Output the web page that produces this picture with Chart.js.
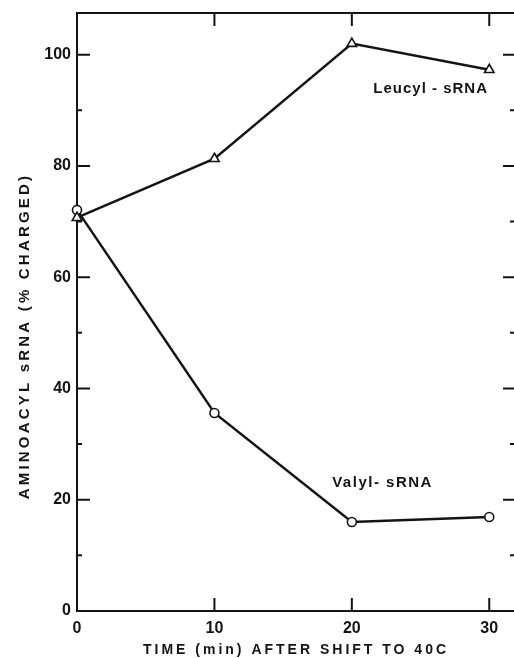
<!DOCTYPE html>
<html>
<head>
<meta charset="utf-8">
<script src="https://cdn.jsdelivr.net/npm/chart.js@4/dist/chart.umd.min.js"></script>
<style>
  html, body { margin: 0; padding: 0; background: #fff; overflow: hidden; }
  #wrap { width: 514px; height: 658px; }
</style>
</head>
<body>
<div id="wrap"><canvas id="chart" width="514" height="658"></canvas></div>
<script>
// data
var timeMin = [0, 10, 20, 30];
var leucyl  = [70.7, 81.3, 102.0, 97.3];
var valyl   = [72.1, 35.6, 16.0, 16.9];
var xTicks  = [0, 10, 20, 30];
var yTicks  = [0, 20, 40, 60, 80, 100];

var INK = '#141414';
var FONT = "'Liberation Sans', Arial, sans-serif";

function pts(ys) {
    return timeMin.map(function (t, i) { return { x: t, y: ys[i] }; });
}

// box, inward ticks, axis titles and curve labels
var frame = {
    id: 'frame',
    afterDraw: function (chart) {
        var c = chart.ctx, a = chart.chartArea;
        var xs = chart.scales.x, ys = chart.scales.y;
        c.save();
        c.strokeStyle = INK;
        c.lineWidth = 2;
        c.beginPath();
        c.moveTo(a.left, a.top); c.lineTo(a.right + 2, a.top);
        // left / right ticks every 10, long ones on the labelled values
        for (var v = 10; v <= 100; v += 10) {
            var py = ys.getPixelForValue(v);
            var major = v % 20 === 0;
            c.moveTo(a.left, py); c.lineTo(a.left + (major ? 13 : 5), py);
            c.moveTo(a.right, py); c.lineTo(a.right - (major ? 11 : 4), py);
        }
        // top / bottom ticks
        [10, 20, 30].forEach(function (t) {
            var px = xs.getPixelForValue(t);
            c.moveTo(px, a.bottom); c.lineTo(px, a.bottom - 13);
            c.moveTo(px, a.top); c.lineTo(px, a.top + 13);
        });
        c.stroke();

        c.fillStyle = INK;
        c.textBaseline = 'middle';
        c.letterSpacing = '3px';
        c.font = 'bold 14px ' + FONT;
        c.textAlign = 'center';
        c.fillText('TIME (min) AFTER SHIFT TO 40C', 296, 650);
        c.save();
        c.translate(25, 336);
        c.rotate(-Math.PI / 2);
        c.letterSpacing = '3.2px';
        c.font = 'bold 15px ' + FONT;
        c.fillText('AMINOACYL sRNA (% CHARGED)', 0, 0);
        c.restore();

        c.font = 'bold 15px ' + FONT;
        c.textAlign = 'left';
        c.letterSpacing = '1px';
        c.fillText('Leucyl - sRNA', xs.getPixelForValue(21.56), ys.getPixelForValue(93.9));
        c.letterSpacing = '1.5px';
        c.fillText('Valyl- sRNA', xs.getPixelForValue(18.57), ys.getPixelForValue(23.0));
        c.restore();
    }
};

new Chart(document.getElementById('chart'), {
    type: 'line',
    data: {
        datasets: [{
            label: 'Leucyl-sRNA',
            data: pts(leucyl),
            borderColor: INK,
            borderWidth: 2.5,
            pointStyle: 'triangle',
            pointRadius: 5.5,
            pointBorderWidth: 1.6,
            pointBackgroundColor: '#fff',
            pointBorderColor: INK,
            tension: 0,
            clip: false
        }, {
            label: 'Valyl-sRNA',
            data: pts(valyl),
            borderColor: INK,
            borderWidth: 2.5,
            pointStyle: 'circle',
            pointRadius: 4.5,
            pointBorderWidth: 1.6,
            pointBackgroundColor: '#fff',
            pointBorderColor: INK,
            tension: 0,
            clip: false
        }]
    },
    options: {
        responsive: false,
        animation: false,
        devicePixelRatio: 1,
        layout: { autoPadding: false, padding: { top: 13, right: 0, left: 0, bottom: 0 } },
        plugins: { legend: { display: false }, tooltip: { enabled: false } },
        scales: {
            x: {
                type: 'linear',
                min: 0,
                max: 31.8,
                afterFit: function (s) { s.height = 47; s.paddingLeft = 0; s.paddingRight = 0; },
                afterBuildTicks: function (s) {
                    s.ticks = xTicks.map(function (v) { return { value: v }; });
                },
                grid: { display: false, drawTicks: false },
                border: { display: true, color: INK, width: 2 },
                ticks: { color: INK, font: { family: FONT, size: 16, weight: 'bold' }, padding: 8 }
            },
            y: {
                min: 0,
                max: 107.5,
                afterFit: function (s) { s.width = 77; s.paddingTop = 0; s.paddingBottom = 0; },
                afterBuildTicks: function (s) {
                    s.ticks = yTicks.map(function (v) { return { value: v }; });
                },
                grid: { display: false, drawTicks: false },
                border: { display: true, color: INK, width: 2 },
                ticks: { color: INK, font: { family: FONT, size: 16, weight: 'bold' }, padding: 6 }
            }
        }
    },
    plugins: [frame]
});
</script>
</body>
</html>
